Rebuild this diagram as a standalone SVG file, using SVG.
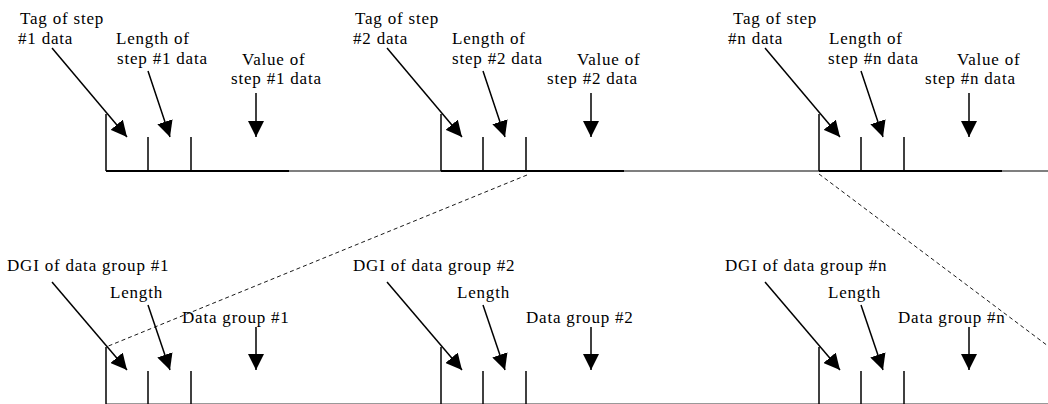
<svg xmlns="http://www.w3.org/2000/svg" width="1048" height="404" viewBox="0 0 1048 404">
<style>
text{font-family:"Liberation Serif","Times New Roman",serif;font-size:17px;letter-spacing:0.8px;fill:#000}
.tick{stroke:#000;stroke-width:1.5;fill:none}
.base{stroke:#000;stroke-width:2;fill:none}
.thin{stroke:#555;stroke-width:1.3;fill:none}
.arr{stroke:#000;stroke-width:1.5;fill:none;marker-end:url(#ah)}
.dash{stroke:#000;stroke-width:0.9;stroke-dasharray:4 3;fill:none}
.bot{stroke:#999;stroke-width:1;fill:none}
</style>
<defs>
<marker id="ah" markerUnits="userSpaceOnUse" markerWidth="16" markerHeight="16" viewBox="0 0 14 14" refX="14" refY="7" orient="auto">
<path d="M0,0 L14,7 L0,14 z" fill="#000"/>
</marker>
</defs>
<rect width="1048" height="404" fill="#fff"/>
<g id="timeline-top">
<line class="thin" x1="106" y1="171" x2="1048" y2="171"/>
<line class="base" x1="106" y1="171" x2="289" y2="171"/>
<line class="base" x1="441" y1="171" x2="624" y2="171"/>
<line class="base" x1="819" y1="171" x2="1002" y2="171"/>
</g>
<g id="timeline-bottom">
<line class="bot" x1="106" y1="403.5" x2="1048" y2="403.5"/>
</g>
<g id="step1">
<line class="tick" x1="106" y1="114" x2="106" y2="171"/>
<line class="tick" x1="148" y1="137" x2="148" y2="171"/>
<line class="tick" x1="191" y1="137" x2="191" y2="171"/>
<text x="20" y="24">Tag of step</text>
<text x="18" y="44">#1 data</text>
<text x="116" y="44">Length of</text>
<text x="117" y="64">step #1 data</text>
<text x="242" y="65">Value of</text>
<text x="231" y="84">step #1 data</text>
</g>
<g id="step2">
<line class="tick" x1="441" y1="114" x2="441" y2="171"/>
<line class="tick" x1="483" y1="137" x2="483" y2="171"/>
<line class="tick" x1="526" y1="137" x2="526" y2="171"/>
<text x="355" y="24">Tag of step</text>
<text x="353" y="44">#2 data</text>
<text x="452" y="44">Length of</text>
<text x="452" y="64">step #2 data</text>
<text x="577" y="65">Value of</text>
<text x="547" y="84">step #2 data</text>
</g>
<g id="stepn">
<line class="tick" x1="819" y1="114" x2="819" y2="171"/>
<line class="tick" x1="861" y1="137" x2="861" y2="171"/>
<line class="tick" x1="904" y1="137" x2="904" y2="171"/>
<text x="733" y="24">Tag of step</text>
<text x="728" y="44">#n data</text>
<text x="829" y="44">Length of</text>
<text x="828" y="64">step #n data</text>
<text x="957" y="65">Value of</text>
<text x="925" y="84">step #n data</text>
</g>
<g id="dg1">
<line class="tick" x1="106" y1="347" x2="106" y2="404"/>
<line class="tick" x1="148" y1="371" x2="148" y2="404"/>
<line class="tick" x1="191" y1="371" x2="191" y2="404"/>
<text x="7" y="271">DGI of data group #1</text>
<text x="110" y="298">Length</text>
<text x="182" y="323">Data group #1</text>
</g>
<g id="dg2">
<line class="tick" x1="441" y1="347" x2="441" y2="404"/>
<line class="tick" x1="483" y1="371" x2="483" y2="404"/>
<line class="tick" x1="526" y1="371" x2="526" y2="404"/>
<text x="353" y="271">DGI of data group #2</text>
<text x="457" y="298">Length</text>
<text x="526" y="323">Data group #2</text>
</g>
<g id="dgn">
<line class="tick" x1="819" y1="347" x2="819" y2="404"/>
<line class="tick" x1="861" y1="371" x2="861" y2="404"/>
<line class="tick" x1="904" y1="371" x2="904" y2="404"/>
<text x="725" y="271">DGI of data group #n</text>
<text x="828" y="298">Length</text>
<text x="898" y="323">Data group #n</text>
</g>
<g id="connectors">
<line class="arr" x1="52" y1="48" x2="127" y2="137"/>
<line class="arr" x1="148" y1="71" x2="170" y2="137"/>
<line class="arr" x1="256" y1="93" x2="256" y2="137"/>
<line class="arr" x1="387" y1="48" x2="462" y2="137"/>
<line class="arr" x1="483" y1="71" x2="505" y2="137"/>
<line class="arr" x1="591" y1="93" x2="591" y2="137"/>
<line class="arr" x1="765" y1="48" x2="840" y2="137"/>
<line class="arr" x1="861" y1="71" x2="883" y2="137"/>
<line class="arr" x1="969" y1="93" x2="969" y2="137"/>
<line class="arr" x1="52" y1="282" x2="127" y2="370"/>
<line class="arr" x1="148" y1="305" x2="170" y2="370"/>
<line class="arr" x1="256" y1="327" x2="256" y2="370"/>
<line class="arr" x1="387" y1="282" x2="462" y2="370"/>
<line class="arr" x1="483" y1="305" x2="505" y2="370"/>
<line class="arr" x1="591" y1="327" x2="591" y2="370"/>
<line class="arr" x1="765" y1="282" x2="840" y2="370"/>
<line class="arr" x1="861" y1="305" x2="883" y2="370"/>
<line class="arr" x1="969" y1="327" x2="969" y2="370"/>
<line class="dash" x1="527" y1="175" x2="106" y2="347"/>
<line class="dash" x1="819" y1="174" x2="1060" y2="355"/>
</g>
</svg>
